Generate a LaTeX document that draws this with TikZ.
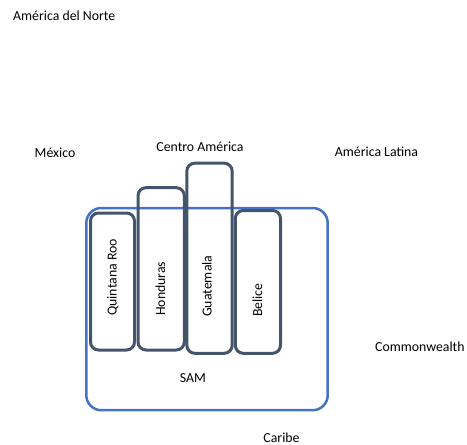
\documentclass[tikz,border=0pt]{standalone}
\usepackage{fontspec}
\setmainfont{Carlito}
\definecolor{slate}{HTML}{44546A}
\definecolor{accblue}{HTML}{4472C4}
\tikzset{
  darkbox/.style={draw=slate, line width=3pt, rounded corners=8pt},
  bluebox/.style={draw=accblue, line width=2.5pt, rounded corners=15pt},
  lbl/.style={font=\fontsize{13.8}{16}\selectfont, inner sep=0pt, text=black},
  vlbl/.style={lbl, rotate=90, anchor=base west}
}
\begin{document}
\begin{tikzpicture}[x=1pt,y=-1pt]
\useasboundingbox (0,0) rectangle (467,445);
\draw[bluebox] (86.3,208) rectangle (327.7,410.2);
\draw[darkbox] (90.5,213) rectangle (134.5,350);
\draw[darkbox] (138,187.7) rectangle (184.3,350);
\draw[darkbox] (186.8,163.2) rectangle (232.2,353.3);
\draw[darkbox] (235.3,210.5) rectangle (280.5,353.3);
\node[vlbl] (qroo) at (116.7,316) {Quintana Roo};
\node[vlbl] (hond) at (165,316) {Honduras};
\node[vlbl] (guat) at (211.5,317) {Guatemala};
\node[vlbl] (beli) at (262,317) {Belice};
\node[lbl, anchor=base west] (norte) at (13,20) {América del Norte};
\node[lbl, anchor=base] (mex) at (55,157) {México};
\node[lbl, anchor=base] (centro) at (200,151) {Centro América};
\node[lbl, anchor=base] (latina) at (376.5,156) {América Latina};
\node[lbl, anchor=base west] (common) at (375,351) {Commonwealth};
\node[lbl, anchor=base] (sam) at (193,382) {SAM};
\node[lbl, anchor=base] (caribe) at (281.5,442) {Caribe};
\end{tikzpicture}
\end{document}
